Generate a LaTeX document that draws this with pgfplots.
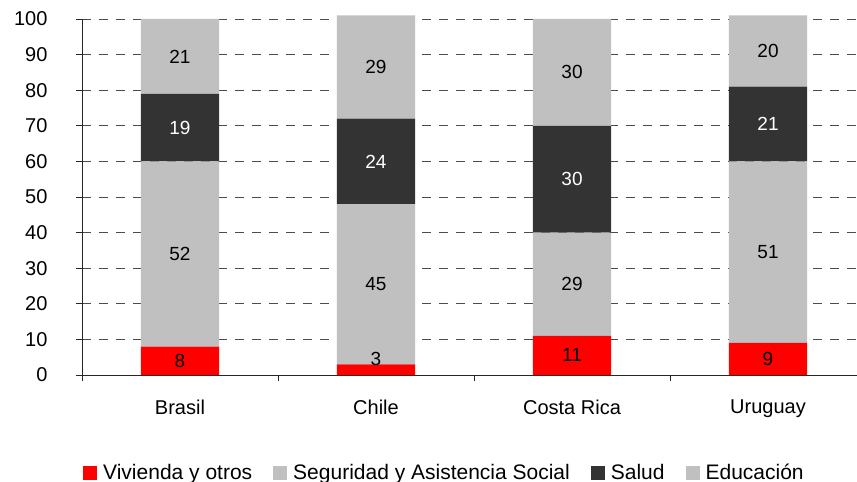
\documentclass[border=0pt]{standalone}
\usepackage{pgfplots}
\pgfplotsset{compat=1.18}
\usepackage{fontspec}
\setmainfont{Liberation Sans}

\definecolor{vivienda}{HTML}{FF0000}
\definecolor{seguridad}{HTML}{C0C0C0}
\definecolor{salud}{HTML}{333333}
\definecolor{educacion}{HTML}{C0C0C0}

\pgfplotsset{
  sqlegend/.style={legend image code/.code={\path[##1] (0bp,-7bp) rectangle (14bp,7bp);}},
}

\begin{document}
\begin{tikzpicture}
\begin{axis}[
  name=ax,
  scale only axis,
  width=784bp, height=356bp,
  xmin=-0.5, xmax=3.5,
  ymin=0, ymax=100,
  ybar stacked,
  bar width=0.4,
  clip=false,
  axis x line=bottom, axis y line=left,
  axis line style={-, draw=black!85, line width=0.8bp},
  xtick={-0.5,0.5,1.5,2.5,3.5},
  xticklabels={},
  extra x ticks={0,1,2,3},
  extra x tick labels={Brasil,Chile,Costa Rica,Uruguay},
  extra x tick style={major tick length=0pt, ticklabel style={yshift=-21bp}},
  ytick={0,10,...,100},
  tick align=outside,
  major tick length=6bp,
  tick style={draw=black!85, line width=0.8bp},
  ymajorgrids,
  major grid style={draw=black!70, dash pattern=on 9bp off 8bp, line width=0.8bp},
  /pgf/number format/assume math mode=true,
  tick label style={font=\fontsize{20bp}{24bp}\selectfont},
  yticklabel style={xshift=-25bp},
  nodes near coords,
  point meta=rawy,
  visualization depends on={rawy \as \rawy},
  % labels sit mid-segment; a very thin segment gets its label lifted clear of it
  nodes near coords style={font=\fontsize{19bp}{22bp}\selectfont, anchor=center,
    yshift={ifthenelse(\rawy<5,10.7,0)*1bp}},
  legend columns=-1,
  legend style={draw=none, fill=none, at={(0,0)}, anchor=west, yshift=-98bp, xshift=1bp,
    font=\fontsize{21bp}{25bp}\selectfont, inner sep=0pt,
    nodes={inner sep=0pt},
    /tikz/every odd column/.append style={column sep=6bp},
    /tikz/every even column/.append style={column sep=21bp}},
]
\addplot[sqlegend, fill=vivienda, draw=none] coordinates {(0,8) (1,3) (2,11) (3,9)};
\addplot[sqlegend, fill=seguridad, draw=none] coordinates {(0,52) (1,45) (2,29) (3,51)};
\addplot[sqlegend, fill=salud, draw=none, every node near coord/.append style={text=white}] coordinates {(0,19) (1,24) (2,30) (3,21)};
\addplot[sqlegend, fill=educacion, draw=none] coordinates {(0,21) (1,29) (2,30) (3,20)};
\legend{Vivienda y otros, Seguridad y Asistencia Social, Salud, Educación}
\end{axis}
\pgfresetboundingbox
\path[use as bounding box] ([xshift=-82bp,yshift=-107bp]ax.south west) rectangle ([xshift=775bp,yshift=19bp]ax.north west);
\end{tikzpicture}
\end{document}
